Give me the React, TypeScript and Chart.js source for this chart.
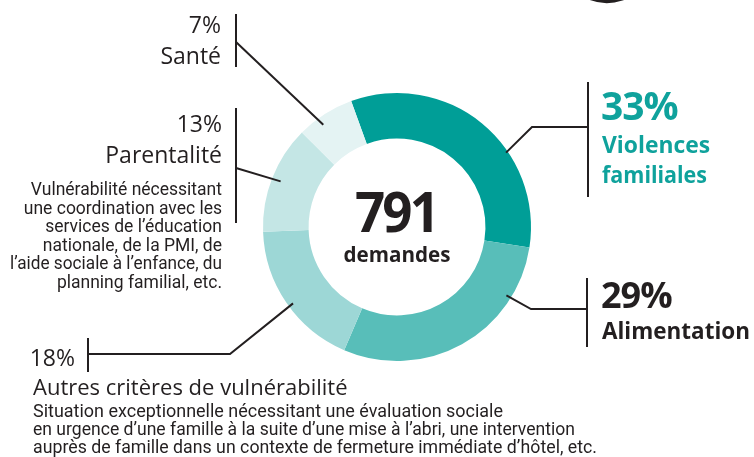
import React, { useEffect, useRef } from "react";
import { Chart, registerables } from "chart.js";

Chart.register(...registerables);

const categories = ["Violences familiales", "Alimentation", "Autres critères de vulnérabilité", "Parentalité", "Santé"];
const values = [33, 29, 18, 13, 7];
const totalRequests = "791";
const totalLabel = "demandes";
const pctLabels = ["33%", "29%", "18%", "13%", "7%"];
const parentDesc = [
  "Vulnérabilité nécessitant",
  "une coordination avec les",
  "services de l’éducation",
  "nationale, de la PMI, de",
  "l’aide sociale à l’enfance, du",
  "planning familial, etc.",
];
const autresDesc = [
  "Situation exceptionnelle nécessitant une évaluation sociale",
  "en urgence d’une famille à la suite d’une mise à l’abri, une intervention",
  "auprès de famille dans un contexte de fermeture immédiate d’hôtel, etc.",
];

const sliceColors = ["#009e97", "#58beb9", "#9dd7d6", "#c4e6e5", "#e4f3f3"];
const INK = "#231f20";
const TEAL_TEXT = "#0fa29c";

// leader anchor angles (deg from top, clockwise) and radius offset from outer edge
const anchorAngles = [55.7, 122, 233.7, 291.4, 324.2];
const anchorInset = [2, 5, 5, 9, 8];

const labelPlugin = {
  id: "labels",
  afterDraw(chart: any) {
    const ctx = chart.ctx as CanvasRenderingContext2D;
    const arc = chart.getDatasetMeta(0).data[0] as any;
    const cx = arc.x;
    const cy = arc.y;
    const R = arc.outerRadius;
    const anchor = (i: number) => {
      const a = ((anchorAngles[i] - 90) * Math.PI) / 180;
      const r = R - anchorInset[i];
      return [cx + r * Math.cos(a), cy + r * Math.sin(a)];
    };
    ctx.save();
    ctx.strokeStyle = INK;
    ctx.lineWidth = 2;
    ctx.lineCap = "butt";
    const line = (pts: number[][]) => {
      ctx.beginPath();
      ctx.moveTo(pts[0][0], pts[0][1]);
      for (let k = 1; k < pts.length; k++) ctx.lineTo(pts[k][0], pts[k][1]);
      ctx.stroke();
    };
    // vertical bars
    line([[236, 14], [236, 67]]);
    line([[236, 108], [236, 223]]);
    line([[88, 338], [88, 372]]);
    line([[588, 82], [588, 197]]);
    line([[587, 278], [587, 347]]);
    // leaders
    line([[236, 42], anchor(4)]);
    line([[236, 168], anchor(3)]);
    line([[88, 354], [230, 354], anchor(2)]);
    line([[588, 127], [532, 127], anchor(0)]);
    line([[587, 309], [531, 309], anchor(1)]);

    // decorative black arc at top
    ctx.lineWidth = 4;
    ctx.beginPath();
    ctx.arc(607, -47, 48, 0.15 * Math.PI, 0.85 * Math.PI);
    ctx.stroke();

    const txt = (s: string, x: number, y: number, font: string, color: string, align: CanvasTextAlign, maxW?: number, ls = "0px") => {
      ctx.font = font;
      ctx.fillStyle = color;
      ctx.textAlign = align;
      ctx.textBaseline = "alphabetic";
      (ctx as any).letterSpacing = ls;
      if (maxW) ctx.fillText(s, x, y, maxW);
      else ctx.fillText(s, x, y);
      (ctx as any).letterSpacing = "0px";
    };
    const reg = "23px 'Open Sans'";
    // Santé
    txt(pctLabels[4], 221, 33, reg, INK, "right");
    txt(categories[4], 221, 64, reg, INK, "right", 63);
    // Parentalité
    txt(pctLabels[3], 222, 132, reg, INK, "right");
    txt(categories[3], 222, 163, reg, INK, "right", 120);
    parentDesc.forEach((s, i) => {
      txt(s, 222, 195 + i * 18.6, "17.5px Roboto", INK, "right", 212);
    });
    // Autres
    txt(pctLabels[2], 75, 366, reg, INK, "right");
    txt(categories[2], 33, 395, "22px 'Open Sans'", INK, "left", 348);
    const widths = [470, 542, 564];
    autresDesc.forEach((s, i) => {
      txt(s, 33, 417 + i * 18, "18px Roboto", INK, "left", widths[i]);
    });
    // Violences
    txt(pctLabels[0], 601, 120, "bold 39px 'Open Sans'", TEAL_TEXT, "left", 80, "-1px");
    const vf = categories[0].split(" ");
    txt(vf[0], 602, 153, "bold 23px 'Open Sans'", TEAL_TEXT, "left", 108);
    txt(vf[1], 602, 183, "bold 23px 'Open Sans'", TEAL_TEXT, "left", 105);
    // Alimentation
    txt(pctLabels[1], 601, 308, "bold 36px 'Open Sans'", INK, "left", 73, "-1px");
    txt(categories[1], 602, 339, "bold 23px 'Open Sans'", INK, "left", 148);
    // Center
    txt(totalRequests, cx - 1, 232, "bold 55px 'Open Sans'", INK, "center", 82, "-3px");
    txt(totalLabel, cx, 262, "bold 22px 'Open Sans'", INK, "center", 107);
    ctx.restore();
  },
};

export default function App() {
  const ref = useRef<HTMLCanvasElement>(null);
  useEffect(() => {
    if (!ref.current) return;
    const chart = new Chart(ref.current, {
      type: "doughnut",
      data: {
        labels: categories,
        datasets: [
          {
            data: values,
            backgroundColor: sliceColors,
            borderWidth: 0,
            hoverOffset: 0,
          },
        ],
      },
      options: {
        responsive: false,
        animation: false,
        rotation: -20,
        cutout: "66%",
        layout: { padding: { left: 263, right: 223, top: 93, bottom: 96 } },
        plugins: { legend: { display: false }, tooltip: { enabled: false } },
      },
      plugins: [labelPlugin],
    });
    return () => chart.destroy();
  }, []);
  return (
    <div style={{ position: "absolute", left: 0, top: 0, width: 754, height: 457, background: "#fff" }}>
      <canvas ref={ref} width={754} height={457} style={{ display: "block" }} />
    </div>
  );
}
